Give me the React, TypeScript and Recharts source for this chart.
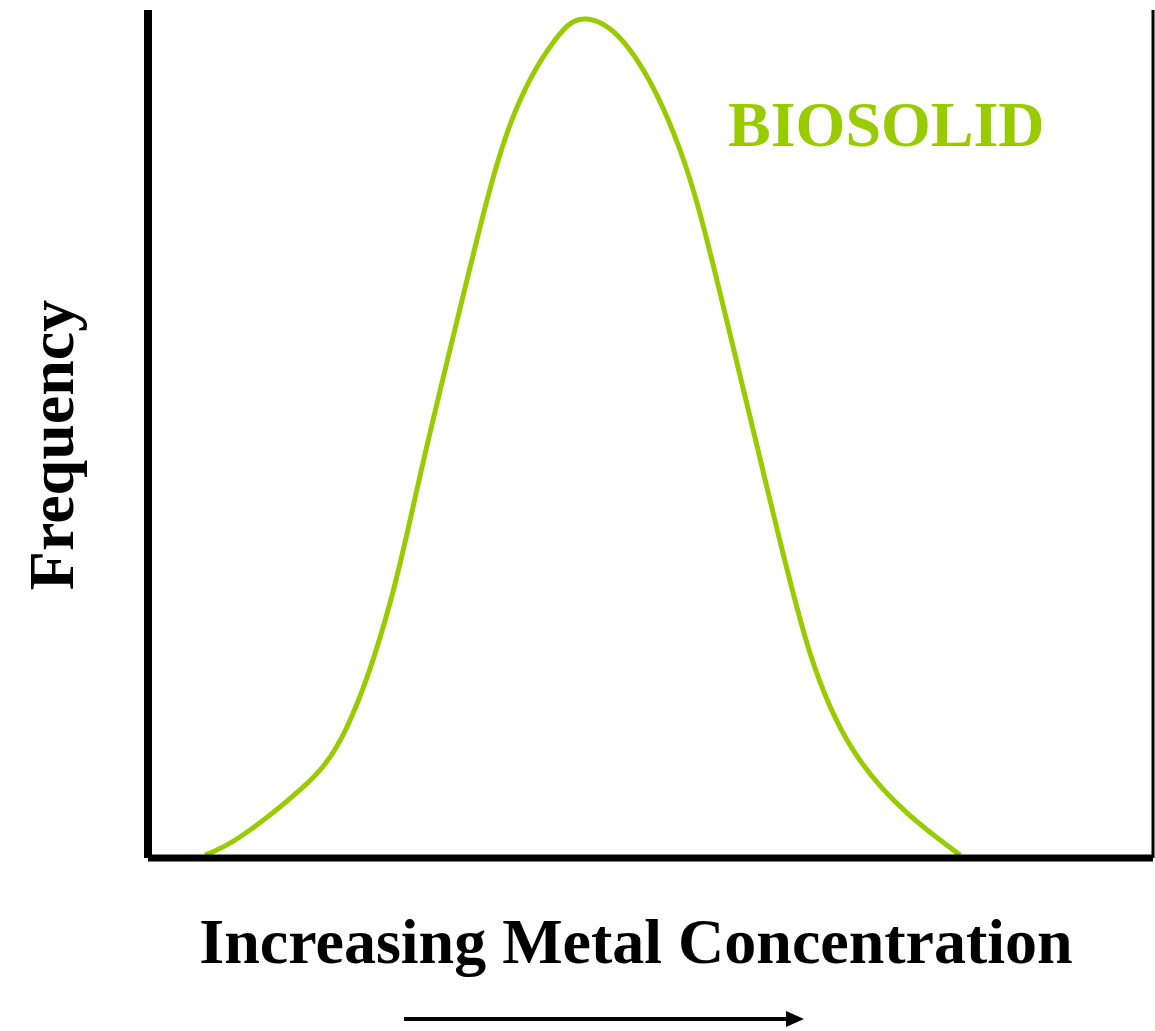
import { LineChart, Line, XAxis, YAxis, ReferenceLine } from "recharts"

// concentration (0-100) and frequency (0-100)
const concentration = [
  5.67, 9.15, 15.12, 19.8, 24.08, 27.36, 31.74, 36.02, 40.5, 43.68, 47.96, 52.94, 56.92, 61.89, 65.87, 70.15,
  75.52, 80.8,
]
const frequency = [
  0.35, 2.48, 8.02, 15.45, 30.07, 46.58, 68.16, 86.44, 96.46, 98.94, 95.28, 83.49, 66.63, 42.22, 24.17, 12.74,
  5.31, 0.35,
]

const seriesName = "BIOSOLID"
const xLabel = "Increasing Metal Concentration"
const yLabel = "Frequency"

const GREEN = "#99cc00"
const FONT = '"Liberation Serif", "Times New Roman", serif'

const data = concentration.map((x, i) => ({ x, y: frequency[i] }))

const App = () => {
  return (
    <div style={{ position: "absolute", left: 0, top: 0, width: 1155, height: 1031, background: "#fff" }}>
      <LineChart width={1155} height={1031} data={data} margin={{ top: 10, right: 2, left: 88, bottom: 143 }}>
        <XAxis
          dataKey="x"
          type="number"
          domain={[0, 100]}
          tick={false}
          tickLine={false}
          axisLine={{ stroke: "#000", strokeWidth: 7 }}
        />
        <YAxis domain={[0, 100]} tick={false} tickLine={false} axisLine={{ stroke: "#000", strokeWidth: 8 }} />
        <ReferenceLine x={100} stroke="#000" strokeWidth={3} />
        <Line
          type="natural"
          dataKey="y"
          stroke={GREEN}
          strokeWidth={5}
          dot={false}
          isAnimationActive={false}
        />

        {/* series label */}
        <text x={728} y={146} fill={GREEN} fontFamily={FONT} fontWeight="bold" fontSize={64}>
          {seriesName}
        </text>

        {/* axis titles */}
        <text
          x={73}
          y={445}
          transform="rotate(-90 73 445)"
          textAnchor="middle"
          fill="#000"
          fontFamily={FONT}
          fontWeight="bold"
          fontSize={64}
        >
          {yLabel}
        </text>
        <text x={636} y={963} textAnchor="middle" fill="#000" fontFamily={FONT} fontWeight="bold" fontSize={64}>
          {xLabel}
        </text>

        {/* direction arrow */}
        <line x1={404} y1={1019} x2={790} y2={1019} stroke="#000" strokeWidth={4} />
        <path d="M786 1011 L804 1019 L786 1027 Z" fill="#000" />
      </LineChart>
    </div>
  )
}

export default App
